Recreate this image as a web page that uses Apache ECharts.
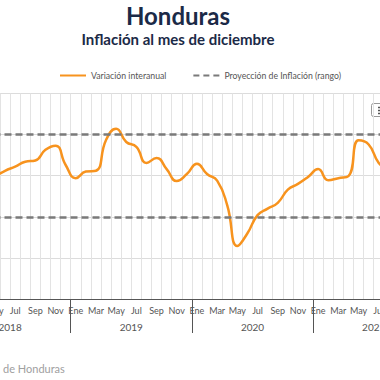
<!DOCTYPE html>
<html>
<head>
<meta charset="utf-8">
<script src="https://cdn.jsdelivr.net/npm/echarts@6/dist/echarts.min.js"></script>
<style>html,body{margin:0;padding:0;background:#fff;overflow:hidden;width:380px;height:380px}#c{position:absolute;left:-60px;top:0;width:500px;height:380px}</style>
</head>
<body>
<div id="c"></div>
<script>
var monthNames = ['Ene','Feb','Mar','Abr','May','Jun','Jul','Ago','Sep','Oct','Nov','Dic'];
var years = ['2018','2019','2020','2021'];
var values2018 = [null, null, null, null, 3.97, 4.12, 4.22, 4.34, 4.37, 4.63, 4.73, 4.26];
var values2019 = [3.94, 4.10, 4.12, 4.87, 5.14, 4.82, 4.70, 4.31, 4.43, 4.16, 3.87, 4.04];
var values2020 = [4.29, 4.04, 3.88, 3.28, 2.29, 2.60, 3.04, 3.20, 3.34, 3.66, 3.80, 3.97];
var values2021 = [4.16, 3.89, 3.94, 3.99, 4.86, 4.76, 4.31, 4.10, null, null, null, null];
var rangeBounds = [3, 5];

var categories = [];
years.forEach(function(y){ monthNames.forEach(function(m){ categories.push(m + ' ' + y); }); });
var values = values2018.concat(values2019, values2020, values2021);
// months whose labels fall inside the visible window
var firstVisible = 4, lastVisible = 42;

var FONT = 'Lato';
var OFF = 60; // container is shifted 60px to the left
var chart = echarts.init(document.getElementById('c'), null, {renderer: 'svg'});
chart.setOption({
  animation: false,
  textStyle: {fontFamily: FONT},
  title: [
    {text: 'Honduras', left: 173 + OFF, textAlign: 'center', top: -2,
     textStyle: {fontFamily: FONT, fontSize: 24, fontWeight: 'bold', color: '#1b2a47'}},
    {text: 'Inflación al mes de diciembre', left: 173 + OFF, textAlign: 'center', top: 26,
     textStyle: {fontFamily: FONT, fontSize: 15, fontWeight: 'bold', color: '#1b2a47'}}
  ],
  legend: {
    top: 66, left: 54 + OFF, itemWidth: 26, itemHeight: 10, itemGap: 26,
    textStyle: {fontSize: 8.7, color: '#555'},
    itemStyle: {opacity: 0},
    data: ['Variación interanual', 'Proyección de Inflación (rango)']
  },
  grid: {left: 9.5, right: 5.7, top: 93.5, bottom: 81, containLabel: false},
  xAxis: [
    {type: 'category', data: categories, boundaryGap: true, position: 'bottom',
     axisLine: {onZero: false, lineStyle: {color: '#999'}},
     axisTick: {show: false},
     axisLabel: {interval: 1, margin: 7, fontSize: 9, color: '#555',
       formatter: function(v, i){ return (i >= firstVisible && i <= lastVisible) ? v.split(' ')[0] : ''; }},
     splitLine: {show: true, interval: 0, lineStyle: {color: '#e3e3e3', width: 1}}},
    {type: 'category', data: years, boundaryGap: true, position: 'bottom',
     axisLine: {onZero: false, lineStyle: {color: '#555'}},
     axisTick: {show: true, length: 34, interval: 0, lineStyle: {color: '#555'}},
     axisLabel: {margin: 23, fontSize: 10, color: '#555'},
     splitLine: {show: false}}
  ],
  yAxis: {type: 'value', min: 1, max: 6, interval: 1,
    axisLine: {show: false}, axisTick: {show: false}, axisLabel: {show: false},
    splitLine: {lineStyle: {color: '#dcdcdc', width: 1}}},
  series: [
    {name: 'Variación interanual', type: 'line', data: values, smooth: true,
     symbol: 'none', xAxisIndex: 0, z: 3,
     lineStyle: {color: '#f7931e', width: 2.5}, itemStyle: {color: '#f7931e'}},
    {name: 'Proyección de Inflación (rango)', type: 'line', data: [], symbol: 'none', xAxisIndex: 0,
     lineStyle: {color: '#7a7a7a', width: 2, type: [6, 4]}, itemStyle: {color: '#7a7a7a'},
     markLine: {silent: true, symbol: 'none', label: {show: false},
       lineStyle: {color: '#7a7a7a', width: 2.5, type: [7, 4]},
       data: rangeBounds.map(function(v){ return {yAxis: v}; })}}
  ],
  graphic: [
    {type: 'text', left: 3 + OFF, top: 363,
     style: {text: 'de Honduras', fontFamily: FONT, fontSize: 11, fill: '#a0a0a0'}},
    {type: 'group', left: 371 + OFF, top: 103, children: [
      {type: 'rect', shape: {x: 0.5, y: 0.5, width: 24, height: 13, r: 2},
       style: {fill: '#fff', stroke: '#999', lineWidth: 1}},
      {type: 'line', shape: {x1: 7, y1: 4.5, x2: 18, y2: 4.5}, style: {stroke: '#555', lineWidth: 1.5}},
      {type: 'line', shape: {x1: 7, y1: 7.5, x2: 18, y2: 7.5}, style: {stroke: '#555', lineWidth: 1.5}},
      {type: 'line', shape: {x1: 7, y1: 10.5, x2: 18, y2: 10.5}, style: {stroke: '#555', lineWidth: 1.5}}
    ]}
  ]
});
</script>
</body>
</html>
